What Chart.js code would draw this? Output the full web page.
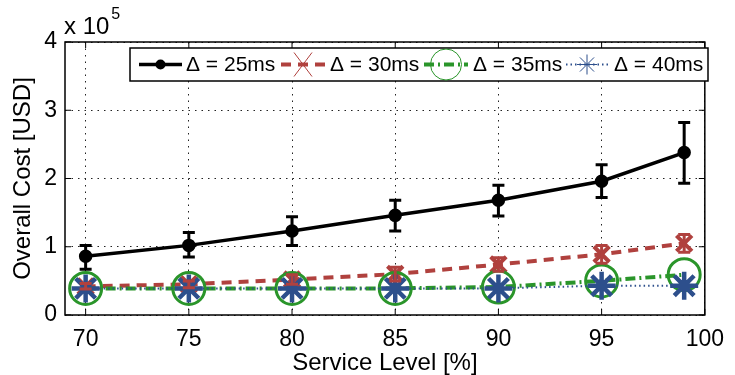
<!DOCTYPE html>
<html>
<head>
<meta charset="utf-8">
<script src="https://cdn.jsdelivr.net/npm/chart.js@4"></script>
<style>
  html, body { margin: 0; padding: 0; background: #fff; }
</style>
</head>
<body>
<canvas id="costChart" width="735" height="375"></canvas>
<script>
// Service level on x, overall cost in units of 10^5 USD on y
var serviceLevels = [70, 75, 80, 85, 90, 95, 99];
var xTicks = [70, 75, 80, 85, 90, 95, 100];
var yTicks = [0, 1, 2, 3, 4];

var cost25 = [0.86, 1.02, 1.23, 1.46, 1.68, 1.96, 2.38];
var cost25Low = [0.67, 0.85, 1.02, 1.23, 1.45, 1.72, 1.93];
var cost25High = [1.02, 1.21, 1.44, 1.68, 1.90, 2.20, 2.82];

var cost30 = [0.42, 0.45, 0.52, 0.60, 0.74, 0.89, 1.05];
var cost30Low = [0.38, 0.40, 0.45, 0.50, 0.64, 0.76, 0.92];
var cost30High = [0.46, 0.50, 0.59, 0.70, 0.84, 1.02, 1.18];

var cost35 = [0.39, 0.39, 0.39, 0.39, 0.41, 0.50, 0.59];
var cost40 = [0.39, 0.39, 0.39, 0.39, 0.39, 0.43, 0.43];

var seriesLabels = ['\u0394 = 25ms', '\u0394 = 30ms', '\u0394 = 35ms', '\u0394 = 40ms'];

var RED = '#b0413e';
var GREEN = '#2a952a';
var BLUE = '#2d4f8c';

function toPoints(ys) {
    return serviceLevels.map(function (x, i) { return { x: x, y: ys[i] }; });
}

Chart.defaults.font.family = '"Liberation Sans", Arial, Helvetica, sans-serif';
Chart.defaults.color = '#000';

// error bars from the low/high arrays
var errorBarPlugin = {
    id: 'errorBars',
    afterDatasetsDraw: function (chart) {
        var ctx = chart.ctx;
        var xs = chart.scales.x, ys = chart.scales.y;
        chart.data.datasets.forEach(function (ds) {
            if (!ds.errLow) return;
            ctx.save();
            ctx.strokeStyle = ds.borderColor;
            ctx.lineWidth = ds.errWidth;
            ctx.setLineDash([]);
            for (var i = 0; i < serviceLevels.length; i++) {
                var px = xs.getPixelForValue(serviceLevels[i]);
                var y1 = ys.getPixelForValue(ds.errLow[i]);
                var y2 = ys.getPixelForValue(ds.errHigh[i]);
                ctx.beginPath();
                ctx.moveTo(px, y1); ctx.lineTo(px, y2);
                ctx.moveTo(px - 6, y1); ctx.lineTo(px + 6, y1);
                ctx.moveTo(px - 6, y2); ctx.lineTo(px + 6, y2);
                ctx.stroke();
            }
            ctx.restore();
        });
    }
};

// box around the plot, inward ticks, exponent label and legend
var framePlugin = {
    id: 'frame',
    afterDraw: function (chart) {
        var ctx = chart.ctx;
        var a = chart.chartArea;
        var xs = chart.scales.x, ys = chart.scales.y;
        ctx.save();
        ctx.setLineDash([]);
        ctx.strokeStyle = '#000';
        ctx.lineWidth = 1.5;
        ctx.strokeRect(a.left, a.top, a.right - a.left, a.bottom - a.top);
        ctx.lineWidth = 1;
        ctx.beginPath();
        xTicks.forEach(function (v) {
            var px = xs.getPixelForValue(v);
            ctx.moveTo(px, a.bottom); ctx.lineTo(px, a.bottom - 6);
            ctx.moveTo(px, a.top); ctx.lineTo(px, a.top + 6);
        });
        yTicks.forEach(function (v) {
            var py = ys.getPixelForValue(v);
            ctx.moveTo(a.left, py); ctx.lineTo(a.left + 6, py);
            ctx.moveTo(a.right, py); ctx.lineTo(a.right - 6, py);
        });
        ctx.stroke();

        // x 10^5
        ctx.fillStyle = '#000';
        ctx.textBaseline = 'alphabetic';
        ctx.textAlign = 'left';
        ctx.font = '24px "Liberation Sans", Arial, sans-serif';
        ctx.fillText('x 10', 64, 34);
        var w = ctx.measureText('x 10').width;
        ctx.font = '16px "Liberation Sans", Arial, sans-serif';
        ctx.fillText('5', 64 + w + 2, 19);

        // legend
        var lx = 130, ly = 48, lw = 578, lh = 33, cy = ly + lh / 2;
        ctx.fillStyle = '#fff';
        ctx.fillRect(lx, ly, lw, lh);
        ctx.lineWidth = 1.5;
        ctx.strokeStyle = '#000';
        ctx.strokeRect(lx, ly, lw, lh);
        var slots = [[139, 182, 186], [281, 325, 330], [424, 468, 473], [566, 608, 614]];
        ctx.font = '21px "Liberation Sans", Arial, sans-serif';
        chart.data.datasets.forEach(function (ds, i) {
            var s = slots[i];
            var mid = (s[0] + s[1]) / 2;
            ctx.strokeStyle = ds.borderColor;
            ctx.lineWidth = ds.borderWidth;
            ctx.setLineDash(ds.borderDash || []);
            ctx.beginPath();
            ctx.moveTo(s[0], cy); ctx.lineTo(s[1], cy);
            ctx.stroke();
            ctx.setLineDash([]);
            ctx.lineWidth = 1;
            ctx.beginPath();
            if (i === 0) {
                ctx.fillStyle = '#000';
                ctx.arc(mid, cy, 5, 0, Math.PI * 2);
                ctx.fill();
            } else if (i === 1) {
                ctx.moveTo(mid - 9, cy - 12); ctx.lineTo(mid + 9, cy + 12);
                ctx.moveTo(mid + 9, cy - 12); ctx.lineTo(mid - 9, cy + 12);
                ctx.stroke();
            } else if (i === 2) {
                ctx.arc(mid, cy, 15.5, 0, Math.PI * 2);
                ctx.stroke();
            } else {
                for (var k = 0; k < 4; k++) {
                    var ang = k * Math.PI / 4;
                    ctx.moveTo(mid - 10 * Math.cos(ang), cy - 10 * Math.sin(ang));
                    ctx.lineTo(mid + 10 * Math.cos(ang), cy + 10 * Math.sin(ang));
                }
                ctx.stroke();
            }
            ctx.fillStyle = '#000';
            ctx.textBaseline = 'middle';
            ctx.fillText(seriesLabels[i], s[2], cy + 1);
        });
        ctx.restore();
    }
};

var ctx = document.getElementById('costChart').getContext('2d');

var costChart = new Chart(ctx, {
    type: 'line',
    data: {
        datasets: [{
            label: seriesLabels[0],
            data: toPoints(cost25),
            errLow: cost25Low,
            errHigh: cost25High,
            errWidth: 3,
            borderColor: '#000',
            backgroundColor: '#000',
            borderWidth: 3.5,
            pointStyle: 'circle',
            pointRadius: 5,
            pointBackgroundColor: '#000',
            pointBorderColor: '#000',
            order: 3
        }, {
            label: seriesLabels[1],
            data: toPoints(cost30),
            errLow: cost30Low,
            errHigh: cost30High,
            errWidth: 3,
            borderColor: RED,
            borderWidth: 4,
            borderDash: [10, 7],
            pointStyle: 'crossRot',
            pointRadius: 11,
            pointBorderWidth: 4,
            pointBorderColor: RED,
            order: 2
        }, {
            label: seriesLabels[2],
            data: toPoints(cost35),
            borderColor: GREEN,
            borderWidth: 4,
            borderDash: [10, 4, 2, 4],
            pointStyle: 'circle',
            pointRadius: 16,
            pointBorderWidth: 3,
            pointBorderColor: GREEN,
            pointBackgroundColor: 'rgba(0,0,0,0)',
            order: 1
        }, {
            label: seriesLabels[3],
            data: toPoints(cost40),
            borderColor: BLUE,
            borderWidth: 2,
            borderDash: [1.5, 3],
            pointStyle: 'star',
            pointRadius: 14,
            pointBorderWidth: 4.5,
            pointBorderColor: BLUE,
            order: 0
        }]
    },
    options: {
        responsive: false,
        animation: false,
        layout: { padding: { left: 0, right: 23, top: 42, bottom: 0 } },
        plugins: {
            legend: { display: false },
            tooltip: { enabled: false }
        },
        scales: {
            x: {
                type: 'linear',
                min: 69,
                max: 100,
                afterBuildTicks: function (s) { s.ticks = xTicks.map(function (v) { return { value: v }; }); },
                afterFit: function (s) { s.height = 60; },
                grid: { color: '#222', lineWidth: 1, drawTicks: false },
                border: { display: false, dash: [1.5, 5] },
                ticks: { font: { size: 23 }, padding: 11, maxRotation: 0, autoSkip: false },
                title: { display: true, text: 'Service Level [%]', font: { size: 24 }, padding: { top: 0, bottom: -3 } }
            },
            y: {
                min: 0,
                max: 4,
                afterBuildTicks: function (s) { s.ticks = yTicks.map(function (v) { return { value: v }; }); },
                afterFit: function (s) { s.width = 65; },
                grid: { color: '#222', lineWidth: 1, drawTicks: false },
                border: { display: false, dash: [1.5, 5] },
                ticks: { font: { size: 23 }, padding: 8 },
                title: { display: true, text: 'Overall Cost [USD]', font: { size: 24 }, padding: { top: 9, bottom: 0 } }
            }
        }
    },
    plugins: [errorBarPlugin, framePlugin]
});
</script>
</body>
</html>
